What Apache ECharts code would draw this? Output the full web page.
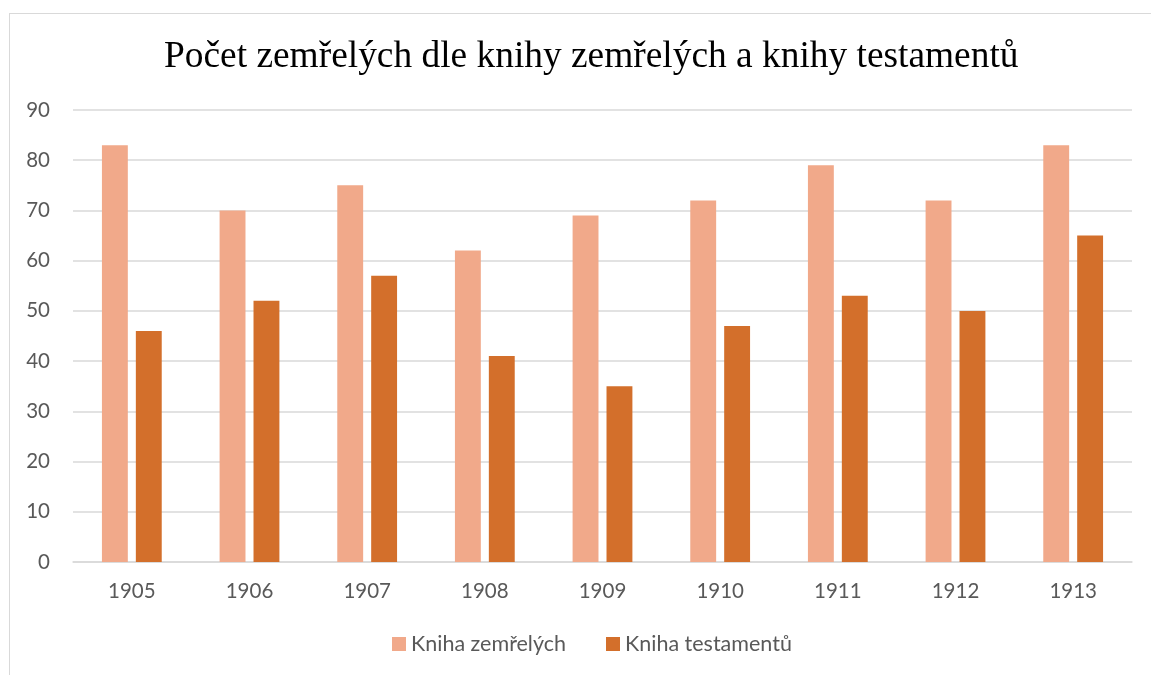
<!DOCTYPE html>
<html>
<head>
    <meta charset="utf-8">
    <title>ECharts</title>
    <script type="text/javascript" src="https://cdn.jsdelivr.net/npm/echarts@6/dist/echarts.min.js"></script>
    <style>
        body { margin: 0; background: #fff; }
        #frame { position: absolute; left: 9px; top: 13px; width: 1160px; height: 700px; border: 1px solid #d9d9d9; }
        #main { position: absolute; left: 0; top: 0; width: 1151px; height: 675px; }
    </style>
</head>
<body>
<div id="frame"></div>
<div id="main"></div>
<script type="text/javascript">
    var years = ['1905', '1906', '1907', '1908', '1909', '1910', '1911', '1912', '1913'];
    var knihaZemrelych = [83, 70, 75, 62, 69, 72, 79, 72, 83];
    var knihaTestamentu = [46, 52, 57, 41, 35, 47, 53, 50, 65];

    var myChart = echarts.init(document.getElementById('main'));
    var option = {
        animation: false,
        title: {
            text: 'Počet zemřelých dle knihy zemřelých a knihy testamentů',
            left: 159,
            top: 34,
            textStyle: {
                fontFamily: 'Liberation Serif',
                fontWeight: 'normal',
                fontSize: 37.4,
                color: '#000'
            }
        },
        legend: {
            bottom: 15,
            left: 387,
            itemWidth: 14,
            itemHeight: 14,
            itemGap: 40,
            icon: 'rect',
            textStyle: { fontFamily: 'Lato', fontSize: 21.5, color: '#595959' },
            data: ['Kniha zemřelých', 'Kniha testamentů']
        },
        grid: { left: 73, right: 19, top: 110, bottom: 113, containLabel: false },
        xAxis: {
            type: 'category',
            data: years,
            axisLine: { lineStyle: { color: '#d9d9d9', width: 1.5 } },
            axisTick: { show: false },
            axisLabel: { margin: 19, fontFamily: 'Lato', fontSize: 20.5, color: '#595959' }
        },
        yAxis: {
            type: 'value',
            min: 0,
            max: 90,
            interval: 10,
            axisLine: { show: false },
            axisTick: { show: false },
            axisLabel: { margin: 23, fontFamily: 'Lato', fontSize: 20.5, color: '#595959' },
            splitLine: { lineStyle: { color: '#d9d9d9', width: 1.5 } }
        },
        series: [{
            name: 'Kniha zemřelých',
            type: 'bar',
            data: knihaZemrelych,
            barWidth: '22%',
            barGap: '31%',
            itemStyle: { color: '#F1A98A' }
        }, {
            name: 'Kniha testamentů',
            type: 'bar',
            data: knihaTestamentu,
            barWidth: '22%',
            itemStyle: { color: '#D36F2B' }
        }]
    };
    myChart.setOption(option);
</script>
</body>
</html>
